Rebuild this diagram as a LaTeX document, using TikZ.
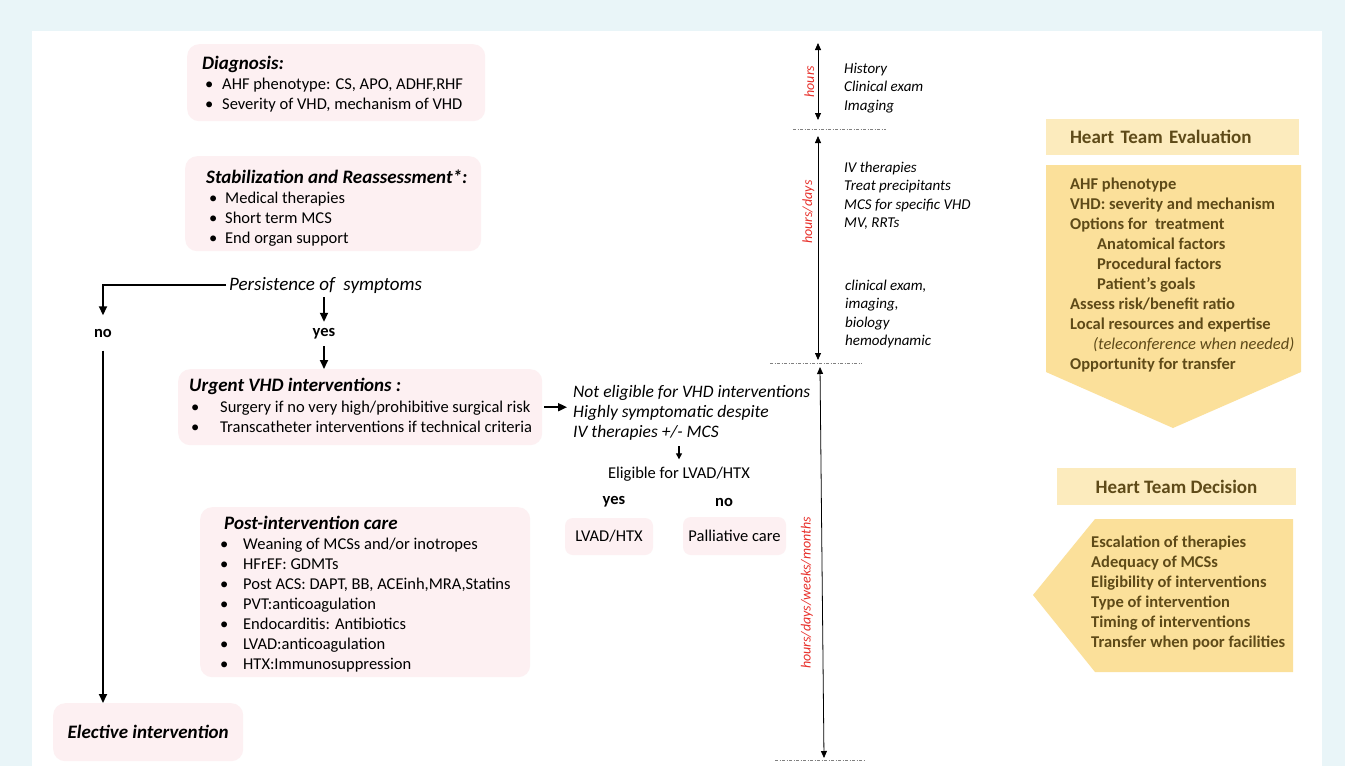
\documentclass[tikz,border=0pt]{standalone}
\usepackage{fontspec}
\setmainfont{Carlito}
\usepackage{tikz}
\usetikzlibrary{arrows.meta}
\definecolor{framebg}{HTML}{E9F5F8}
\definecolor{boxpink}{HTML}{FDF0F2}
\definecolor{teamlight}{HTML}{FCEBBD}
\definecolor{teamdark}{HTML}{FBE09A}
\definecolor{teambrown}{HTML}{5E4A18}
\definecolor{timered}{HTML}{E8302B}
\newcommand{\blt}[2]{\hspace*{#1}\makebox[#2][l]{\textbullet}}
\newcommand{\ttl}[1]{{\fontsize{19}{20}\selectfont\bfseries\itshape #1}}

\begin{document}
\begin{tikzpicture}[x=1pt,y=-1pt]
    \tikzstyle pinkbox=[fill=boxpink,rounded corners=12pt,anchor=north west,inner sep=0pt]
    \tikzstyle boxtext=[anchor=base west,align=left,inner sep=0pt,font=\fontsize{16.5}{20}\selectfont]
    \tikzstyle flowarrow=[->,>={Stealth[length=9pt,width=8pt,inset=0pt]},line width=1.8pt]
    \tikzstyle smallarrow=[->,>={Stealth[length=6pt,width=6pt,inset=0pt]},line width=1.2pt]
    \tikzstyle answer=[font=\fontsize{16.5}{20}\selectfont\bfseries,minimum height=24pt,inner sep=0pt]
    \tikzstyle timeline=[<->,>={Stealth[length=7pt,width=6pt,inset=0pt]},line width=0.8pt]
    \tikzstyle timelabel=[rotate=90,anchor=south,text=timered,font=\fontsize{14}{16}\selectfont\itshape]
    \tikzstyle timetext=[anchor=base west,align=left,inner sep=0pt,font=\fontsize{15}{18.5}\selectfont\itshape]
    \tikzstyle separator=[gray,line width=0.8pt,dash pattern=on 3pt off 1.5pt on 1pt off 1.5pt]
    \tikzstyle teamhead=[fill=teamlight,text=teambrown,font=\fontsize{19}{20}\selectfont\bfseries]
    \tikzstyle teamtext=[anchor=base west,align=left,inner sep=0pt,text=teambrown,font=\fontsize{16.5}{20}\selectfont\bfseries]

    \useasboundingbox (0,0) rectangle (1345,766);
    \fill[framebg] (0,0) rectangle (1345,766);
    \fill[white] (32,31) rectangle (1322,766);

    % left column (text nodes sit on the baseline of their last line)
    \node[pinkbox,minimum width=298pt,minimum height=77pt] (diag) at (187,44) {};
    \node[boxtext] (diagtxt) at (202,109.5) {\ttl{Diagnosis:}\\
      \blt{3pt}{17pt}AHF phenotype: CS, APO, ADHF,RHF\\
      \blt{3pt}{17pt}Severity of VHD, mechanism of VHD};
    \node[pinkbox,minimum width=296pt,minimum height=95pt] (stab) at (185,156) {};
    \node[boxtext] (stabtxt) at (206,243.5) {\ttl{Stabilization and Reassessment*:}\\
      \blt{3pt}{16pt}Medical therapies\\
      \blt{3pt}{16pt}Short term MCS\\
      \blt{3pt}{16pt}End organ support};
    \node[boxtext,font=\fontsize{19}{20}\selectfont\itshape] (pers) at (229,290) {Persistence of~ symptoms};
    \node[answer,minimum height=35pt] (no) at (103,333) {no};
    \node[answer] (yes) at (324,334) {yes};
    \node[pinkbox,minimum width=364pt,minimum height=76pt] (urgent) at (178,369) {};
    \node[boxtext] (urgenttxt) at (189,432.5) {\ttl{Urgent VHD interventions :}\\[1pt]
      \blt{2pt}{29pt}Surgery if no very high/prohibitive surgical risk\\
      \blt{2pt}{29pt}Transcatheter interventions if technical criteria};
    \node[pinkbox,minimum width=330pt,minimum height=170pt] (post) at (200,507) {};
    \node[boxtext] (posttxt) at (224,669) {\ttl{Post-intervention care}\\
      \blt{-4pt}{23pt}Weaning of MCSs and/or inotropes\\
      \blt{-4pt}{23pt}HFrEF: GDMTs\\
      \blt{-4pt}{23pt}Post ACS: DAPT, BB, ACEinh,MRA,Statins\\
      \blt{-4pt}{23pt}PVT:anticoagulation\\
      \blt{-4pt}{23pt}Endocarditis: Antibiotics\\
      \blt{-4pt}{23pt}LVAD:anticoagulation\\
      \blt{-4pt}{23pt}HTX:Immunosuppression};
    \node[pinkbox,minimum width=190pt,minimum height=58pt,
      font=\fontsize{19}{20}\selectfont\bfseries\itshape] (elect) at (53,703) {Elective intervention};

    % middle column
    \node[boxtext,font=\fontsize{17.5}{20}\selectfont\itshape] (notelig) at (573,437) {Not eligible for VHD interventions\\
      Highly symptomatic despite\\IV therapies +/- MCS};
    \node[font=\fontsize{16.5}{20}\selectfont] (elig) at (679,474) {Eligible for LVAD/HTX};
    \node[answer] (yeslvad) at (614,502) {yes};
    \node[answer] (nolvad) at (724,502) {no};
    \node[pinkbox,rounded corners=8pt,anchor=center,minimum width=88pt,minimum height=37pt,
      font=\fontsize{16.5}{20}\selectfont] (lvad) at (609,536.5) {LVAD/HTX};
    \node[pinkbox,rounded corners=8pt,anchor=center,minimum width=103pt,minimum height=38pt,
      font=\fontsize{16.5}{20}\selectfont] (pall) at (734.5,536) {Palliative care};

    \draw[flowarrow,shorten <=3pt] (pers.west) -| (no.north);
    \draw[flowarrow] (no.south) -- (no.south |- elect.north);
    \draw[flowarrow,shorten <=4pt] (yes.north |- pers.south) -- (yes.north);
    \draw[flowarrow] (yes.south) -- (yes.south |- urgent.north);
    \draw[flowarrow,shorten <=2pt,shorten >=6pt] (urgent.east) -- (notelig.west |- urgent.east);
    \draw[smallarrow,shorten <=6pt,shorten >=4pt] (elig.north |- notelig.south) -- (elig.north);

    % time scale
    \coordinate (h1top) at (818,43);
    \coordinate (h1bot) at (818,120);
    \coordinate (h2top) at (818,136);
    \coordinate (h2bot) at (818,360);
    \coordinate (h3top) at (820,367);
    \coordinate (h3bot) at (824,758);
    \draw[timeline] (h1top) -- (h1bot) node[timelabel,pos=0.5] (lblhours) {hours};
    \draw[timeline] (h2top) -- (h2bot) node[timelabel,pos=0.34] (lbldays) {hours/days};
    \draw[timeline] (h3top) -- (h3bot) node[timelabel,pos=0.578,inner ysep=9pt] (lblmonths) {hours/days/weeks/months};
    \draw[separator] (793,129) -- (886,129);
    \draw[separator] (770,363) -- (862,363);
    \draw[separator] (775,760) -- (865,760);
    \node[timetext] (history) at (844,110) {History\\Clinical exam\\Imaging};
    \node[timetext] (ivtherapies) at (844,227.5) {IV therapies\\Treat precipitants\\MCS for specific VHD\\MV, RRTs};
    \node[timetext] (reassess) at (845,345.5) {clinical exam,\\imaging,\\biology\\hemodynamic};

    % heart team
    \node[teamhead,inner xsep=24pt,text width=205pt,align=left,minimum height=36pt] (evalhead) at (1172.5,137) {Heart Team Evaluation};
    \fill[teamdark] (1046,165) -- (1301,165) -- (1301,372) -- (1173,428) -- (1046,372) -- cycle;
    \node[teamtext] (evaltxt) at (1070,369) {AHF phenotype\\
      VHD: severity and mechanism\\
      Options for~ treatment\\
      \hspace*{27pt}Anatomical factors\\
      \hspace*{27pt}Procedural factors\\
      \hspace*{27pt}Patient’s goals\\
      Assess risk/benefit ratio\\
      Local resources and expertise\\
      \hspace*{23pt}{\mdseries\itshape (teleconference when needed)}\\
      Opportunity for transfer};
    \node[teamhead,minimum width=239pt,minimum height=37pt] (dechead) at (1176.5,486.5) {Heart Team Decision};
    \fill[teamdark] (1095,519) -- (1293,519) -- (1293,672) -- (1095,672) -- (1033,595) -- cycle;
    \node[teamtext] (dectxt) at (1091,647) {Escalation of therapies\\
      Adequacy of MCSs\\
      Eligibility of interventions\\
      Type of intervention\\
      Timing of interventions\\
      Transfer when poor facilities};
\end{tikzpicture}
\end{document}
